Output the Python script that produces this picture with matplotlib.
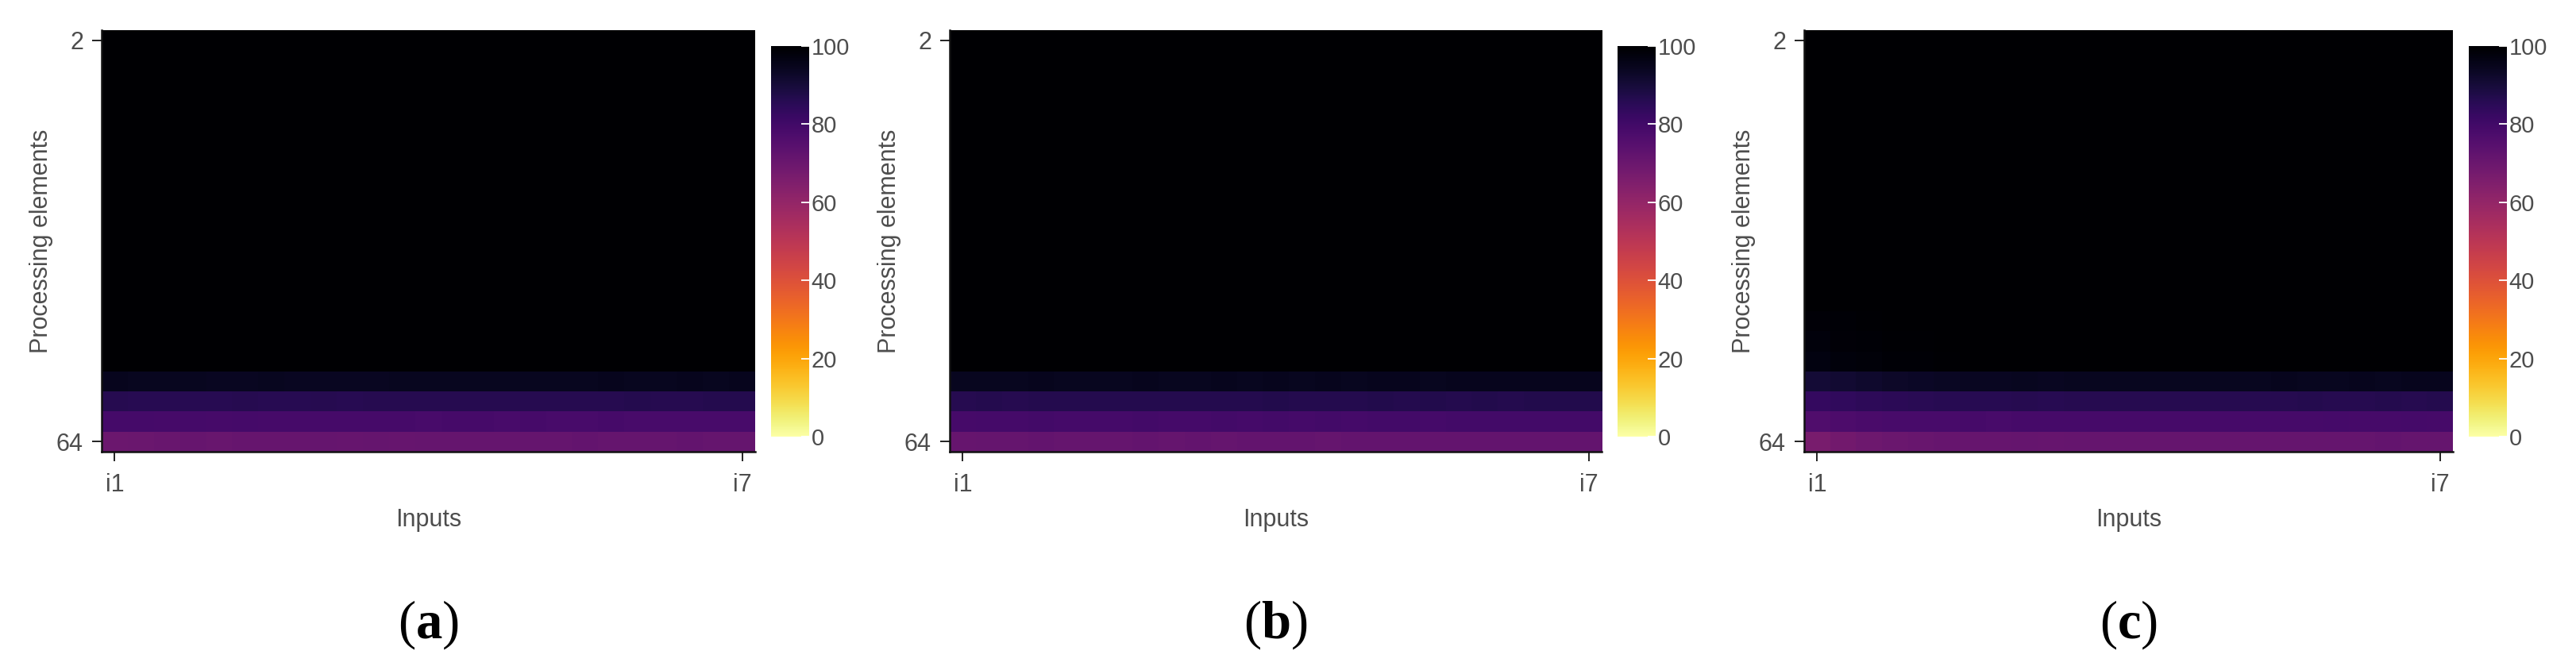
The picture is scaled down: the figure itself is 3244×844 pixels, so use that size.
import numpy as np
import matplotlib
matplotlib.use("Agg")
import matplotlib.pyplot as plt

plt.rcParams["font.family"] = ["Liberation Sans", "DejaVu Sans"]
plt.rcParams["mathtext.fontset"] = "custom"
plt.rcParams["mathtext.rm"] = "Liberation Serif"
plt.rcParams["mathtext.bf"] = "Liberation Serif:bold"

# ---- data: utilisation (%) per processing element row x input column ----
n_cols = 25
x_labels = ["i1", "i7"]
y_labels = ["2", "64"]
panel_names = ["a", "b", "c"]

full = [100] * n_cols

# panel (a), last four rows
a_r18 = [94.6, 94.4, 94.2, 94.3, 94.1, 94.0, 94.2, 94.0, 93.9, 94.1, 94.0, 94.2, 94.5,
         94.3, 94.2, 94.4, 94.3, 94.5, 94.4, 94.6, 94.5, 94.4, 94.6, 94.5, 94.7]
a_r19 = [86.0, 85.6, 85.9, 85.8, 85.7, 86.0, 85.9, 85.8, 86.1, 85.9, 86.0, 86.2, 86.0,
         86.3, 86.1, 86.0, 86.2, 86.1, 86.3, 86.2, 86.4, 86.2, 86.3, 86.5, 86.4]
a_r20 = [79.2, 79.0, 78.9, 79.1, 78.9, 79.0, 78.8, 78.9, 78.7, 78.8, 78.6, 78.7, 78.5,
         78.6, 78.7, 78.5, 78.6, 78.4, 78.5, 78.6, 78.4, 78.5, 78.3, 78.4, 78.5]
a_r21 = [69.6, 70.2, 70.5, 70.8, 70.6, 70.9, 71.0, 70.8, 71.1, 71.0, 71.2, 71.0, 71.3,
         71.1, 71.2, 71.4, 71.2, 71.3, 71.5, 71.3, 71.4, 71.2, 71.5, 71.3, 71.4]

# panel (b)
b_r18 = [94.2, 94.5, 94.3, 94.6, 94.4, 94.5, 94.3, 94.6, 94.5, 94.4, 94.7, 94.5, 94.6,
         94.4, 94.7, 94.5, 94.6, 94.8, 94.5, 94.7, 94.6, 94.8, 94.6, 94.7, 94.8]
b_r19 = [86.2, 86.5, 86.3, 86.6, 86.4, 86.5, 86.7, 86.5, 86.6, 86.4, 86.7, 86.6, 86.8,
         86.5, 86.7, 86.6, 86.8, 86.7, 86.9, 86.6, 86.8, 86.7, 86.9, 86.8, 86.9]
b_r20 = [78.8, 79.2, 79.0, 79.3, 79.1, 79.2, 79.0, 79.3, 79.1, 79.2, 79.4, 79.2, 79.3,
         79.1, 79.4, 79.2, 79.3, 79.5, 79.2, 79.4, 79.3, 79.5, 79.3, 79.4, 79.5]
b_r21 = [70.8, 71.3, 71.1, 71.5, 71.2, 71.4, 71.3, 71.6, 71.4, 71.5, 71.3, 71.6, 71.5,
         71.7, 71.4, 71.6, 71.5, 71.7, 71.6, 71.8, 71.5, 71.7, 71.6, 71.8, 71.7]

# panel (c)
c_r15 = [98.8, 99.2, 99.5, 99.7, 99.8, 99.9] + [100] * 19
c_r16 = [98.0, 98.6, 99.0, 99.4, 99.6, 99.8, 99.9] + [100] * 18
c_r17 = [97.0, 97.8, 98.4, 98.9, 99.2, 99.5, 99.7, 99.8, 99.9] + [100] * 16
c_r18 = [90.5, 91.2, 92.0, 92.8, 93.3, 93.6, 93.9, 94.0, 94.2, 94.1, 94.3, 94.2, 94.4,
         94.3, 94.5, 94.4, 94.3, 94.5, 94.6, 94.4, 94.5, 94.6, 94.5, 94.7, 94.6]
c_r19 = [83.0, 83.8, 84.6, 85.0, 85.4, 85.6, 85.8, 85.9, 86.0, 85.9, 86.1, 86.0, 86.2,
         86.1, 86.3, 86.2, 86.1, 86.3, 86.2, 86.4, 86.3, 86.2, 86.4, 86.3, 86.5]
c_r20 = [76.5, 77.2, 77.8, 78.2, 78.4, 78.5, 78.6, 78.5, 78.7, 78.6, 78.8, 78.7, 78.6,
         78.8, 78.7, 78.9, 78.8, 78.7, 78.9, 78.8, 79.0, 78.9, 78.8, 79.0, 78.9]
c_r21 = [66.5, 68.0, 69.2, 70.0, 70.5, 70.8, 71.0, 70.9, 71.1, 71.0, 71.2, 71.1, 71.3,
         71.2, 71.1, 71.3, 71.2, 71.4, 71.3, 71.2, 71.4, 71.3, 71.5, 71.4, 71.3]

grid_a = np.array([full] * 17 + [a_r18, a_r19, a_r20, a_r21])
grid_b = np.array([full] * 17 + [b_r18, b_r19, b_r20, b_r21])
grid_c = np.array([full] * 14 + [c_r15, c_r16, c_r17, c_r18, c_r19, c_r20, c_r21])
grids = [grid_a, grid_b, grid_c]

# ---- layout (pixels) ----
W, H = 3244, 844
fig = plt.figure(figsize=(W / 100, H / 100), dpi=100)


def box(l, t, w, h):
    return [l / W, 1 - (t + h) / H, w / W, h / H]


lefts = [128, 1196, 2272]
widths = [823, 821, 817]
top, height = 38, 531
grey = "#4d4d4d"

for grid, name, left, width in zip(grids, panel_names, lefts, widths):
    ax = fig.add_axes(box(left, top, width, height))
    nr, nc = grid.shape
    im = ax.imshow(grid, cmap="inferno_r", vmin=0, vmax=100, aspect="auto",
                   interpolation="nearest")
    ax.set_xticks([0, nc - 1])
    ax.set_xticklabels(x_labels)
    ax.set_yticks([0, nr - 1])
    ax.set_yticklabels(y_labels)
    ax.tick_params(length=8.6, width=1.4, color="#222222", labelcolor=grey,
                   labelsize=22)
    ax.tick_params(axis="x", pad=11)
    ax.tick_params(axis="y", pad=8)
    for s in ["top", "right"]:
        ax.spines[s].set_visible(False)
    for s in ["bottom", "left"]:
        ax.spines[s].set_linewidth(1.8)
        ax.spines[s].set_color("#111111")

    cx = left + width + 20
    cax = fig.add_axes(box(cx, 58, 48, 492))
    cb = fig.colorbar(im, cax=cax, ticks=[0, 20, 40, 60, 80, 100])
    cb.outline.set_visible(False)
    cax.tick_params(direction="in", length=7, width=1.3, color="white",
                    labelcolor=grey, labelsize=21, pad=2)

    mid = left + width / 2
    fig.text(mid / W, 1 - 655 / H, "Inputs", ha="center", va="center",
             fontsize=22, color=grey)
    fig.text((left - 76) / W, 1 - (top + height / 2) / H, "Processing elements",
             rotation=90, ha="center", va="center", fontsize=22, color=grey)
    fig.text(mid / W, 1 - 787 / H, r"($\mathbf{%s}$)" % name, ha="center",
             va="center", fontsize=48, family="Liberation Serif", color="black")

fig.savefig("out.png", dpi=100)
